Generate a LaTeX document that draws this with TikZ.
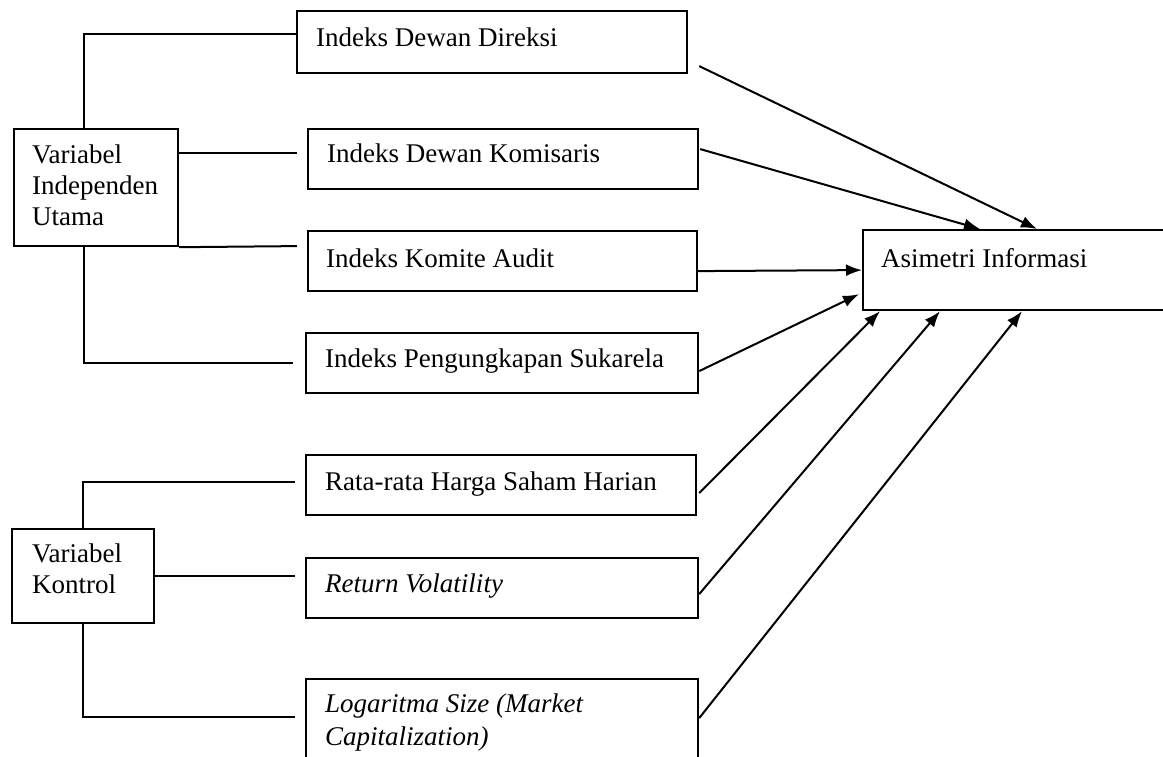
\documentclass[tikz,border=0pt]{standalone}
\usepackage{fontspec}
\setmainfont{Liberation Serif}
\usetikzlibrary{arrows.meta,calc}
\begin{document}
\begin{tikzpicture}[x=1pt,y=-1pt,
  box/.style={draw,line width=2.2pt,rectangle,anchor=north west,inner sep=0pt},
  lbl/.style={anchor=base west,inner sep=0pt,font=\fontsize{27}{31}\selectfont},
  mlbl/.style={anchor=north west,inner sep=0pt,align=left,font=\fontsize{27}{31}\selectfont},
  link/.style={line width=2pt},
  arr/.style={line width=2pt,-{Latex[length=16pt,width=12pt]}}]
\useasboundingbox (0,0) rectangle (1163,757);
\clip (0,0) rectangle (1163,757);
\fill[white] (0,0) rectangle (1163,757);

% left group boxes
\node[box,minimum width=164pt,minimum height=117pt] (viu) at (13,128) {};
\node[mlbl] (tviu) at (32,144.5) {Variabel\\Independen\\Utama};
\node[box,minimum width=142pt,minimum height=94pt] (vk) at (11,528) {};
\node[mlbl] (tvk) at (32,543.5) {Variabel\\Kontrol};

% variable boxes
\node[box,minimum width=390pt,minimum height=62pt] (b1) at (296,10) {};
\node[lbl] (t1) at (316,47) {Indeks Dewan Direksi};
\node[box,minimum width=390pt,minimum height=60pt] (b2) at (307,128) {};
\node[lbl] (t2) at (327,163) {Indeks Dewan Komisaris};
\node[box,minimum width=389pt,minimum height=60pt] (b3) at (307,230) {};
\node[lbl] (t3) at (326,267) {Indeks Komite Audit};
\node[box,minimum width=392pt,minimum height=60pt] (b4) at (305,332) {};
\node[lbl] (t4) at (325,367) {Indeks Pengungkapan Sukarela};
\node[box,minimum width=390pt,minimum height=60pt] (b5) at (305,454) {};
\node[lbl] (t5) at (325,490) {Rata-rata Harga Saham Harian};
\node[box,minimum width=392pt,minimum height=60pt] (b6) at (305,557) {};
\node[lbl] (t6) at (325,592) {\itshape Return Volatility};
\node[box,minimum width=392pt,minimum height=112pt] (b7) at (305,678) {};
\node[mlbl,font=\fontsize{27}{33}\selectfont\itshape] (t7) at (325,693.5) {Logaritma Size (Market\\Capitalization)};

% target
\node[box,minimum width=400pt,minimum height=80pt] (ai) at (862,229) {};
\node[lbl] (tai) at (881,267) {Asimetri Informasi};

% grouping connectors
\draw[link] ($(viu.north)+(-12,0)$) |- ($(b1.west)+(0,-8)$);
\draw[link] ($(viu.east)+(0,-34.5)$) -- ($(b2.west)+(-10,-6)$);
\draw[link] (viu.south east) -- ($(b3.west)+(-10,-15)$);
\draw[link] ($(viu.south)+(-12,0)$) |- ($(b4.west)+(-12,0)$);
\draw[link] (vk.north) |- ($(b5.west)+(-10,-3)$);
\draw[link] (vk.east) -- ($(b6.west)+(-10,-12)$);
\draw[link] (vk.south) |- ($(b7.west)+(-10,-18)$);

% arrows to Asimetri Informasi
\draw[arr] ($(b1.east)+(11,24)$) -- ($(ai.north west)+(175,0)$);
\draw[arr] ($(b2.east)+(1,-10)$) -- ($(ai.north west)+(118,0)$);
\draw[arr] ($(b3.east)+(0,10)$) -- (ai.west);
\draw[arr] ($(b4.east)+(0,8)$) -- ($(ai.south west)+(-3,-17)$);
\draw[arr] ($(b5.east)+(2,8)$) -- ($(ai.south west)+(18,0)$);
\draw[arr] ($(b6.east)+(0,6)$) -- ($(ai.south west)+(78,0)$);
\draw[arr] ($(b7.east)+(0,-17)$) -- ($(ai.south west)+(160,0)$);
\end{tikzpicture}
\end{document}
